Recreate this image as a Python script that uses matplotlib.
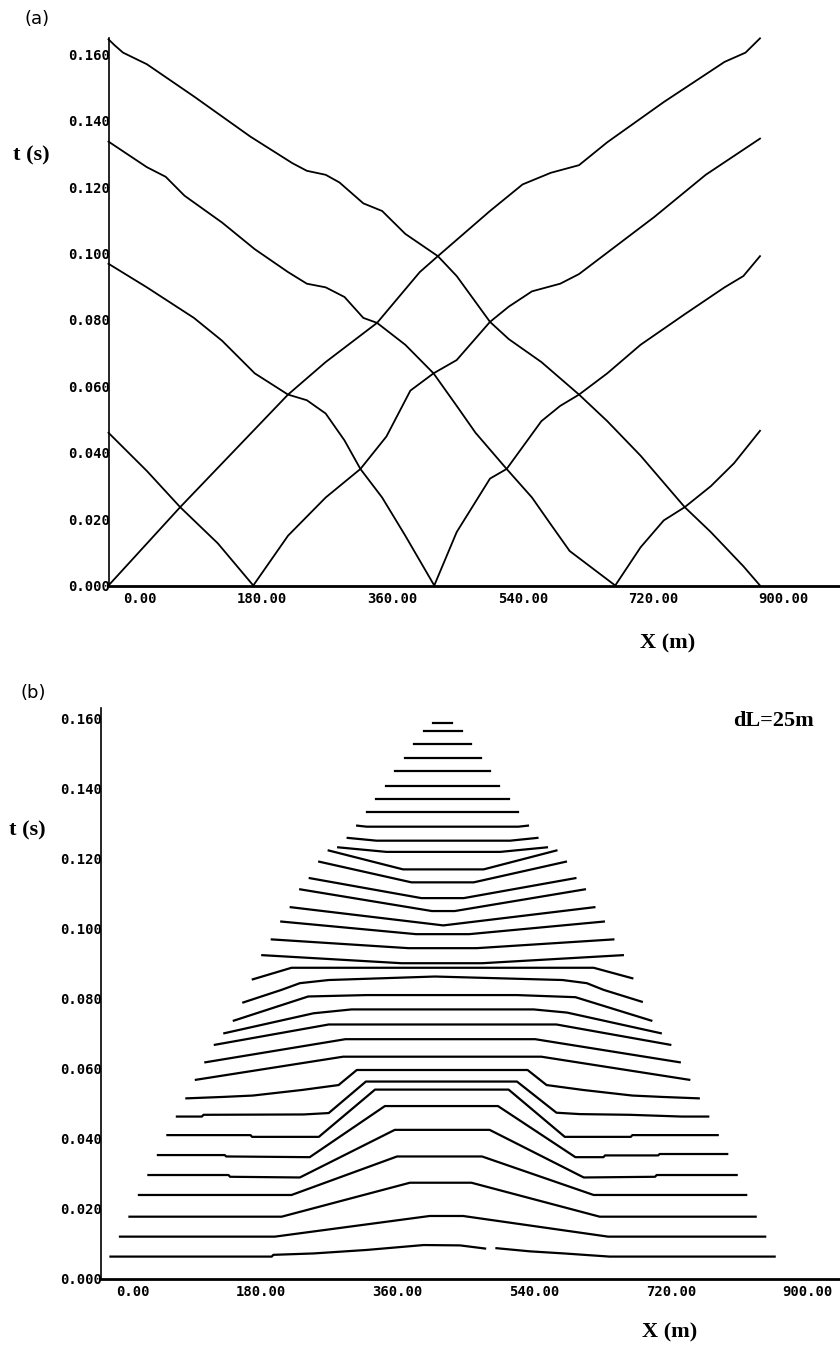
import matplotlib
matplotlib.use("Agg")
import matplotlib.pyplot as plt
import matplotlib.transforms as mtransforms
import numpy as np

# ---------------- axis ticks (shared) ----------------
x_ticks = [0, 180, 360, 540, 720, 900]
x_tick_labels = ["0.00", "180.00", "360.00", "540.00", "720.00", "900.00"]
y_ticks = [0.0, 0.02, 0.04, 0.06, 0.08, 0.10, 0.12, 0.14, 0.16]
y_tick_labels = ["0.000", "0.020", "0.040", "0.060", "0.080", "0.100", "0.120", "0.140", "0.160"]

# ---------------- (a) traveltime curves, shots at 0, 200, 450, 700, 900 m ----------------
shot900_x = [0, 8, 20, 53, 118, 196, 254, 274, 300, 319, 352, 378, 410, 455, 481, 527, 553,
             598, 650, 689, 735, 796, 832, 877, 900]
shot900_t = [0.1645, 0.1628, 0.1605, 0.157, 0.1473, 0.1352, 0.1272, 0.1249, 0.1237, 0.1214,
             0.1151, 0.1128, 0.1059, 0.0992, 0.0932, 0.0794, 0.0742, 0.0673, 0.0575, 0.0495,
             0.0391, 0.0236, 0.0161, 0.0058, 0.0]

shot0_x = [0, 99, 248, 300, 371, 430, 455, 527, 572, 611, 650, 689, 767, 851, 880, 900]
shot0_t = [0.0, 0.0236, 0.0575, 0.0673, 0.0791, 0.0944, 0.0992, 0.1128, 0.1208, 0.1243,
           0.1266, 0.1335, 0.1456, 0.1577, 0.1605, 0.1648]

shot700_left_x = [0, 53, 79, 105, 157, 202, 248, 274, 300, 326, 352, 371, 410, 449, 481,
                  507, 550, 585, 611, 637, 700]
shot700_left_t = [0.1337, 0.1260, 0.1231, 0.1174, 0.1093, 0.1013, 0.0944, 0.0909, 0.0898,
                  0.0869, 0.0806, 0.0791, 0.0725, 0.0639, 0.0541, 0.0460, 0.0351, 0.0265,
                  0.0184, 0.0104, 0.0]
shot700_right_x = [700, 735, 767, 796, 832, 864, 900]
shot700_right_t = [0.0, 0.0115, 0.0196, 0.0236, 0.0299, 0.0368, 0.0466]

shot200_left_x = [0, 53, 99, 151, 200]
shot200_left_t = [0.046, 0.0345, 0.0236, 0.0127, 0.0]
shot200_right_x = [200, 248, 300, 348, 384, 417, 449, 481, 527, 553, 585, 624, 650, 702,
                   754, 825, 900]
shot200_right_t = [0.0, 0.0150, 0.0265, 0.0351, 0.0449, 0.0587, 0.0639, 0.0679, 0.0794,
                   0.0840, 0.0886, 0.0909, 0.0938, 0.1024, 0.1110, 0.1237, 0.1346]

shot450_left_x = [0, 53, 118, 157, 202, 248, 274, 300, 326, 348, 378, 410, 450]
shot450_left_t = [0.0969, 0.0898, 0.0806, 0.0737, 0.0639, 0.0575, 0.0558, 0.0518, 0.0437,
                  0.0351, 0.0265, 0.0150, 0.0]
shot450_right_x = [450, 481, 527, 550, 598, 624, 650, 689, 735, 796, 851, 877, 900]
shot450_right_t = [0.0, 0.0161, 0.0322, 0.0351, 0.0495, 0.0541, 0.0575, 0.0639, 0.0725,
                   0.0817, 0.0898, 0.0932, 0.0992]

curves_x = [shot900_x, shot0_x, shot700_left_x, shot700_right_x, shot200_left_x,
            shot200_right_x, shot450_left_x, shot450_right_x]
curves_t = [shot900_t, shot0_t, shot700_left_t, shot700_right_t, shot200_left_t,
            shot200_right_t, shot450_left_t, shot450_right_t]

# ---------------- (b) dL=25m lines, from the bottom one upwards ----------------
nan = np.nan
lines_x = [
    [12.5, 225, 227, 280, 350, 425, 473, 506, nan, 521, 565, 610, 670, 887.5],
    [25, 229, 433, 477, 668, 875],
    [37.5, 238, 407, 488, 657, 862.5],
    [50, 251, 390, 502, 649, 850],
    [62.5, 168, 170, 262, 387, 512, 636, 730, 732, 837.5],
    [75, 163, 165, 275, 374, 523, 625, 662, 664, 734, 736, 825],
    [87.5, 197, 199, 287, 361, 537, 611, 698, 700, 812.5],
    [100, 133, 135, 267, 300, 349, 548, 600, 631, 697, 765, 800],
    [112.5, 160, 200, 265, 313, 337, 562, 587, 635, 700, 740, 787.5],
    [125, 319, 580, 775],
    [137.5, 322, 572, 762.5],
    [150, 300, 600, 750],
    [162.5, 280, 330, 570, 614, 737.5],
    [175, 273, 350, 548, 625, 725],
    [187.5, 238, 262, 300, 440, 608, 640, 662, 712.5],
    [200, 251, 649, 700],
    [212.5, 396, 502, 687.5],
    [225, 405, 495, 675],
    [237.5, 415, 485, 662.5],
    [250, 451, 650],
    [262.5, 436, 466, 637.5],
    [275, 422, 478, 625],
    [287.5, 409, 491, 612.5],
    [300, 398, 504, 600],
    [312.5, 376, 526, 587.5],
    [325, 363, 539, 575],
    [337.5, 350, 550, 562.5],
    [350, 550],
    [362.5, 537.5],
    [375, 525],
    [387.5, 512.5],
    [400, 500],
    [412.5, 487.5],
    [425, 475],
    [437.5, 462.5],
]
lines_t = [
    [0.0064, 0.0064, 0.0069, 0.0073, 0.0083, 0.0097, 0.0096, 0.0087, nan, 0.0088, 0.0079,
     0.0073, 0.0064, 0.0064],
    [0.0121, 0.0121, 0.0180, 0.0180, 0.0121, 0.0121],
    [0.0178, 0.0178, 0.0275, 0.0275, 0.0178, 0.0178],
    [0.0240, 0.0240, 0.0350, 0.0350, 0.0240, 0.0240],
    [0.0297, 0.0297, 0.0292, 0.0290, 0.0426, 0.0426, 0.0290, 0.0292, 0.0297, 0.0297],
    [0.0354, 0.0354, 0.0350, 0.0348, 0.0494, 0.0494, 0.0348, 0.0348, 0.0353, 0.0353,
     0.0357, 0.0357],
    [0.0411, 0.0411, 0.0406, 0.0406, 0.0541, 0.0541, 0.0406, 0.0406, 0.0411, 0.0411],
    [0.0464, 0.0464, 0.0469, 0.0470, 0.0474, 0.0564, 0.0564, 0.0475, 0.0471, 0.0469,
     0.0464, 0.0464],
    [0.0516, 0.0520, 0.0524, 0.0540, 0.0554, 0.0597, 0.0597, 0.0554, 0.0540, 0.0524,
     0.0520, 0.0516],
    [0.0569, 0.0635, 0.0635, 0.0569],
    [0.0619, 0.0685, 0.0685, 0.0619],
    [0.0669, 0.0727, 0.0727, 0.0669],
    [0.0702, 0.0759, 0.0770, 0.0770, 0.0761, 0.0702],
    [0.0738, 0.0807, 0.0811, 0.0811, 0.0805, 0.0738],
    [0.0790, 0.0826, 0.0845, 0.0854, 0.0864, 0.0854, 0.0845, 0.0826, 0.0792],
    [0.0856, 0.0889, 0.0889, 0.0859],
    [0.0925, 0.0902, 0.0902, 0.0925],
    [0.0970, 0.0945, 0.0945, 0.0970],
    [0.1021, 0.0985, 0.0985, 0.1021],
    [0.1062, 0.1010, 0.1062],
    [0.1113, 0.1051, 0.1051, 0.1113],
    [0.1145, 0.1088, 0.1088, 0.1145],
    [0.1192, 0.1133, 0.1133, 0.1192],
    [0.1224, 0.1170, 0.1170, 0.1224],
    [0.1233, 0.1220, 0.1220, 0.1233],
    [0.1260, 0.1252, 0.1252, 0.1260],
    [0.1295, 0.1292, 0.1292, 0.1295],
    [0.1333, 0.1333],
    [0.1371, 0.1371],
    [0.1409, 0.1409],
    [0.1451, 0.1451],
    [0.1488, 0.1488],
    [0.1528, 0.1528],
    [0.1564, 0.1564],
    [0.1588, 0.1588],
]

TICK_FONT = dict(family="DejaVu Sans Mono", weight="bold", size=10)
LABEL_FONT = dict(family="Liberation Serif", weight="bold", size=16)

fig = plt.figure(figsize=(8.4, 13.45), dpi=100)


def style_axes(ax, xmax, ymax):
    ax.set_xlim(0, xmax)
    ax.set_ylim(0, ymax)
    ax.spines["top"].set_visible(False)
    ax.spines["right"].set_visible(False)
    ax.spines["left"].set_linewidth(1.2)
    ax.spines["bottom"].set_linewidth(2.0)
    ax.set_yticks(y_ticks)
    ax.set_yticklabels(y_tick_labels, fontdict=TICK_FONT)
    ax.tick_params(axis="y", length=0, pad=-1)
    ax.set_xticks([])
    # x labels in the original sit to the right of their tick, right-aligned
    off = mtransforms.ScaledTranslation(0.485, -0.06, fig.dpi_scale_trans)
    for v, lab in zip(x_ticks, x_tick_labels):
        ax.text(v, 0, lab, transform=ax.get_xaxis_transform() + off,
                ha="right", va="top", fontdict=TICK_FONT)


# panel (a)
ax_a = fig.add_axes([108.5 / 840, 1 - 585.5 / 1345, 731.5 / 840, 547.5 / 1345])
style_axes(ax_a, 1010.5, 0.1649)
for xs, ts in zip(curves_x, curves_t):
    ax_a.plot(xs, ts, color="black", lw=1.3, clip_on=False)

# panel (b)
ax_b = fig.add_axes([101 / 840, 1 - 1279 / 1345, 739 / 840, 571 / 1345])
style_axes(ax_b, 973.6, 0.1631)
for xs, ts in zip(lines_x, lines_t):
    ax_b.plot(xs, ts, color="black", lw=1.6)
ax_b.text(774 / 840, 1 - 721 / 1345, "dL=25m", transform=fig.transFigure,
          ha="center", va="center", family="Liberation Serif", weight="bold", size=16)

# labels
fig.text(31 / 840, 1 - 155 / 1345, "t (s)", ha="center", va="center", **LABEL_FONT)
fig.text(668 / 840, 1 - 643 / 1345, "X (m)", ha="center", va="center", **LABEL_FONT)
fig.text(27 / 840, 1 - 830 / 1345, "t (s)", ha="center", va="center", **LABEL_FONT)
fig.text(670 / 840, 1 - 1332 / 1345, "X (m)", ha="center", va="center", **LABEL_FONT)
fig.text(37 / 840, 1 - 19 / 1345, "(a)", ha="center", va="center", family="DejaVu Sans", size=13)
fig.text(33 / 840, 1 - 693 / 1345, "(b)", ha="center", va="center", family="DejaVu Sans", size=13)

fig.savefig("out.png", dpi=100)
